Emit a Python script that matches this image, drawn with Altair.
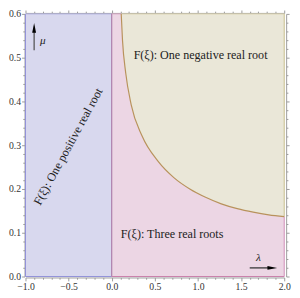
import altair as alt
import pandas as pd

# Boundary curve between "three real roots" and "one negative real root"
curve_lambda = [0.11, 0.125, 0.162, 0.225, 0.352, 0.538, 0.72, 0.905, 1.088, 1.27, 1.455, 1.64, 1.82, 2.0]
curve_mu = [0.60, 0.539, 0.465, 0.393, 0.321, 0.263, 0.226, 0.200, 0.181, 0.166, 0.155, 0.147, 0.141, 0.137]

# Region rectangles
region_names = ["positive", "three"]
region_x0 = [-1.0, 0.0]
region_x1 = [0.0, 2.0]
region_y0 = [0.0, 0.0]
region_y1 = [0.6, 0.6]
region_colors = ["#d8d8ee", "#ecd6e4"]
yellow_color = "#eae7d8"

# Region edges
edge_x0 = [-1.0, -1.0, -1.0, 0.0, 0.0, 2.0, 2.0, 0.0, 0.11]
edge_x1 = [-1.0, 0.0, 0.0, 0.0, 2.0, 2.0, 2.0, 0.11, 2.0]
edge_y0 = [0.0, 0.0, 0.6, 0.0, 0.0, 0.0, 0.137, 0.6, 0.6]
edge_y1 = [0.6, 0.0, 0.6, 0.6, 0.0, 0.137, 0.6, 0.6, 0.6]
edge_colors = ["#8f8fd8", "#8f8fd8", "#b4b4e2", "#a0689c", "#c87ca8", "#d08cb8", "#c8c08c", "#dcaac8", "#dcd4ae"]

# Tick values
x_ticks = [round(-1.0 + 0.1 * i, 2) for i in range(31)]
y_ticks = [round(0.02 * i, 2) for i in range(31)]

curve = pd.DataFrame({"lam": curve_lambda, "mu": curve_mu})
regions = pd.DataFrame({"name": region_names, "x0": region_x0, "x1": region_x1,
                        "y0": region_y0, "y1": region_y1})
edges = pd.DataFrame({"x0": edge_x0, "x1": edge_x1, "y0": edge_y0, "y1": edge_y1, "c": edge_colors})

XS = alt.Scale(domain=[-1, 2], nice=False, zero=False)
YS = alt.Scale(domain=[0, 0.6], nice=False, zero=False)
FONT = "Liberation Serif"

x_major = "abs(datum.value*2 - round(datum.value*2)) < 0.001"
y_major = "abs(datum.value*10 - round(datum.value*10)) < 0.001"

axis_common = dict(domainColor="#9a9a9a", tickColor="#9a9a9a", labelFont=FONT, labelFontSize=10,
                   labelColor="#333333", grid=False, title=None, offset=1)

x_axis_bottom = alt.Axis(orient="bottom", values=x_ticks, labelPadding=1,
                         labelExpr=f"{x_major} ? format(datum.value, '.1f') : ''",
                         tickSize={"condition": {"test": x_major, "value": 3.5}, "value": 1.8},
                         labelFlush=False, labelOverlap=False, **axis_common)
y_axis_left = alt.Axis(orient="left", values=y_ticks, labelPadding=1,
                       labelExpr=f"{y_major} ? format(datum.value, '.1f') : ''",
                       tickSize={"condition": {"test": y_major, "value": 3}, "value": 1.8},
                       labelFlush=False, labelOverlap=False, **axis_common)
x_axis_top = alt.Axis(orient="top", values=x_ticks, labels=False, domainColor="#9a9a9a",
                      tickColor="#9a9a9a", grid=False, title=None, offset=1,
                      tickSize={"condition": {"test": x_major, "value": 3}, "value": 1.8})
y_axis_right = alt.Axis(orient="right", values=y_ticks, labels=False, domainColor="#9a9a9a",
                        tickColor="#9a9a9a", grid=False, title=None, offset=2,
                        tickSize={"condition": {"test": y_major, "value": 3}, "value": 1.8})

rects = alt.Chart(regions).mark_rect().encode(
    x=alt.X("x0:Q", scale=XS, axis=x_axis_bottom),
    x2="x1:Q",
    y=alt.Y("y0:Q", scale=YS, axis=y_axis_left),
    y2="y1:Q",
    color=alt.Color("name:N", scale=alt.Scale(domain=region_names, range=region_colors), legend=None),
)

frame = alt.Chart(regions).mark_rect(opacity=0).encode(
    x=alt.X("x0:Q", scale=XS, axis=x_axis_top),
    x2="x1:Q",
    y=alt.Y("y0:Q", scale=YS, axis=y_axis_right),
    y2="y1:Q",
)

yellow = alt.Chart(curve).mark_area(color=yellow_color, interpolate="monotone", opacity=1).encode(
    x=alt.X("lam:Q", scale=XS, axis=None),
    y=alt.Y("mu:Q", scale=YS, axis=None),
    y2=alt.datum(0.6),
)

edge_lines = alt.Chart(edges).mark_rule(strokeWidth=1).encode(
    x=alt.X("x0:Q", scale=XS, axis=None),
    x2="x1:Q",
    y=alt.Y("y0:Q", scale=YS, axis=None),
    y2="y1:Q",
    color=alt.Color("c:N", scale=None),
)

curve_line = alt.Chart(curve).mark_line(color="#b8925c", strokeWidth=1.2, interpolate="monotone").encode(
    x=alt.X("lam:Q", scale=XS, axis=None),
    y=alt.Y("mu:Q", scale=YS, axis=None),
)

def label(text, lam, mu, angle=0, size=12.4, italic=False, color="#222222"):
    df = pd.DataFrame({"t": [text], "lam": [lam], "mu": [mu]})
    return alt.Chart(df).mark_text(font=FONT, fontSize=size, angle=angle, color=color,
                                   fontStyle="italic" if italic else "normal",
                                   align="center", baseline="middle").encode(
        x=alt.X("lam:Q", scale=XS, axis=None),
        y=alt.Y("mu:Q", scale=YS, axis=None),
        text="t:N",
    )

t1 = label("F(ξ): One negative real root", 1.03, 0.505)
t2 = label("F(ξ): Three real roots", 0.70, 0.098)
t3 = label("F(ξ): One positive real root", -0.505, 0.297, angle=298.5)
t_mu = label("μ", -0.80, 0.537, italic=True, size=11.5)
t_lam = label("λ", 1.70, 0.041, italic=True, size=11.5)

# arrows
mu_shaft = alt.Chart(pd.DataFrame({"lam": [-0.90], "a": [0.517], "b": [0.562]})).mark_rule(
    color="#555555", strokeWidth=1.3).encode(
    x=alt.X("lam:Q", scale=XS, axis=None),
    y=alt.Y("a:Q", scale=YS, axis=None), y2="b:Q")
mu_head = alt.Chart(pd.DataFrame({"lam": [-0.90], "mu": [0.568]})).mark_point(
    shape="M0,-1L0.4,1L-0.4,1Z", filled=True, color="#000000", size=100, opacity=1).encode(
    x=alt.X("lam:Q", scale=XS, axis=None),
    y=alt.Y("mu:Q", scale=YS, axis=None))
lam_shaft = alt.Chart(pd.DataFrame({"a": [1.60], "b": [1.84], "mu": [0.0197]})).mark_rule(
    color="#333333", strokeWidth=1.3).encode(
    x=alt.X("a:Q", scale=XS, axis=None), x2="b:Q",
    y=alt.Y("mu:Q", scale=YS, axis=None))
lam_head = alt.Chart(pd.DataFrame({"lam": [1.862], "mu": [0.0197]})).mark_point(
    shape="M1,0L-1,-0.4L-1,0.4Z", filled=True, color="#000000", size=100, opacity=1).encode(
    x=alt.X("lam:Q", scale=XS, axis=None),
    y=alt.Y("mu:Q", scale=YS, axis=None))

chart = alt.layer(
    rects, yellow, edge_lines, curve_line, frame,
    t1, t2, t3, t_mu, t_lam, mu_shaft, mu_head, lam_shaft, lam_head,
).resolve_axis(x="independent", y="independent").properties(
    width=266, height=270,
    autosize=alt.AutoSizeParams(type="none"),
    padding={"left": 18, "top": 2, "right": 8, "bottom": 18},
    background="white",
).configure_view(stroke=None)

chart.save("out.html", embed_options={"renderer": "svg", "actions": False})
